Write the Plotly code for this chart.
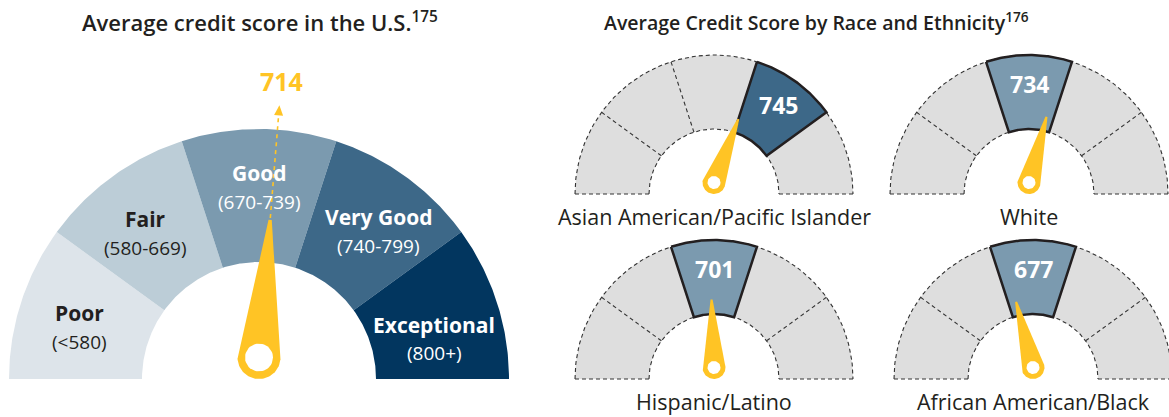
import numpy as np
import plotly.graph_objects as go

# ---------------- data ----------------
band_names = ["Poor", "Fair", "Good", "Very Good", "Exceptional"]
band_ranges = ["(<580)", "(580-669)", "(670-739)", "(740-799)", "(800+)"]
band_edges = [300, 580, 670, 740, 800, 850]

us_average = 714

groups = ["Asian American/Pacific Islander", "White", "Hispanic/Latino", "African American/Black"]
group_scores = [745, 734, 701, 677]

title_left = "Average credit score in the U.S."
title_left_note = "175"
title_right = "Average Credit Score by Race and Ethnicity"
title_right_note = "176"

# ---------------- styling ----------------
W, H = 1169, 417
FONT = "Open Sans"
DARK = "#231F20"
YELLOW = "#FFC425"
GREY = "#DEDEDE"
DASH_COLOR = "#333333"
band_colors = ["#DDE4EA", "#BCCDD7", "#7B9AAF", "#3D6888", "#02365F"]
band_text_colors = [DARK, DARK, "#FFFFFF", "#FFFFFF", "#FFFFFF"]

# main gauge geometry (pixel space, y grows downward)
MAIN_C = (259, 379)
MAIN_R_IN, MAIN_R_OUT = 117, 250
MAIN_LABEL_POLAR = [(164, 187), (128, 185), (90, 192), (51, 190), (13, 180)]

# small gauges geometry
SMALL_C = [(714, 194), (1029, 194), (714, 379), (1033, 379)]
SMALL_R_IN, SMALL_R_OUT = 65, 139

n_bands = len(band_names)
SPAN = 180.0 / n_bands


def band_index(score):
    for i in range(n_bands):
        if band_edges[i] <= score < band_edges[i + 1]:
            return i
    return n_bands - 1


def score_to_angle(score):
    i = band_index(score)
    lo, hi = band_edges[i], band_edges[i + 1]
    return 180.0 - SPAN * (i + (score - lo) / (hi - lo))


def band_angles(i):
    return 180.0 - SPAN * i, 180.0 - SPAN * (i + 1)


def pt(cx, cy, r, a):
    t = np.radians(a)
    return cx + r * np.cos(t), cy - r * np.sin(t)


def arc(cx, cy, r, a0, a1, n=72):
    a = np.linspace(a0, a1, n)
    x, y = pt(cx, cy, r, a)
    return list(x), list(y)


def wedge(cx, cy, r_in, r_out, a0, a1):
    xo, yo = arc(cx, cy, r_out, a0, a1)
    xi, yi = arc(cx, cy, r_in, a1, a0)
    return xo + xi + [xo[0]], yo + yi + [yo[0]]


fig = go.Figure()


def add_poly(x, y, fill, line_color=None, line_width=0):
    fig.add_trace(go.Scatter(
        x=x, y=y, mode="lines", fill="toself", fillcolor=fill,
        line=dict(color=line_color or fill, width=line_width),
        hoverinfo="skip", showlegend=False))


def add_line(x, y, color, width, dash=None):
    fig.add_trace(go.Scatter(
        x=x, y=y, mode="lines",
        line=dict(color=color, width=width, dash=dash),
        hoverinfo="skip", showlegend=False))


def add_text(x, y, text, size, color, bold=False):
    fig.add_annotation(
        x=x, y=y, xref="x", yref="y", showarrow=False,
        text=f"<b>{text}</b>" if bold else text,
        font=dict(family=FONT, size=size, color=color),
        xanchor="center", yanchor="middle")


def add_needle(hx, hy, angle, length, r_hub, r_hole, tip_half):
    t = np.radians(angle)
    ux, uy = np.cos(t), -np.sin(t)
    sx, sy = -np.sin(t), -np.cos(t)
    tx, ty = hx + length * ux, hy + length * uy
    bx, by = arc(hx, hy, r_hub, angle + 90, angle + 270, 48)
    x = [tx + tip_half * sx] + bx + [tx - tip_half * sx, tx + tip_half * sx]
    y = [ty + tip_half * sy] + by + [ty - tip_half * sy, ty + tip_half * sy]
    add_poly(x, y, YELLOW)
    cx_, cy_ = arc(hx, hy, r_hole, 0, 360, 48)
    add_poly(cx_, cy_, "#FFFFFF")
    return ux, uy


# ---------------- main gauge ----------------
cx, cy = MAIN_C
for i in range(n_bands):
    a0, a1 = band_angles(i)
    x, y = wedge(cx, cy, MAIN_R_IN, MAIN_R_OUT, a0, a1)
    add_poly(x, y, band_colors[i])

for i in range(n_bands):
    a, r = MAIN_LABEL_POLAR[i]
    lx, ly = pt(cx, cy, r, a)
    add_text(lx, ly - 14, band_names[i], 21, band_text_colors[i], bold=True)
    add_text(lx, ly + 14.5, band_ranges[i], 19, band_text_colors[i])

hub_r = 21.5
hx, hy = cx, cy - hub_r
ang = score_to_angle(us_average)
ux, uy = add_needle(hx, hy, ang, 138, hub_r, 14, 1.6)

# dashed pointer leading to the value
L0, L1, L_tip = 140, 243, 253
add_line([hx + L0 * ux, hx + L1 * ux], [hy + L0 * uy, hy + L1 * uy], YELLOW, 1.6, "4px,4px")
sx, sy = -uy, ux
bx, by = hx + L1 * ux, hy + L1 * uy
add_poly([hx + L_tip * ux, bx + 4.5 * sx, bx - 4.5 * sx, hx + L_tip * ux],
         [hy + L_tip * uy, by + 4.5 * sy, by - 4.5 * sy, hy + L_tip * uy], YELLOW)
add_text(hx + 277 * ux, hy + 277 * uy, str(us_average), 25, YELLOW, bold=True)

# ---------------- small gauges ----------------
for (gx, gy), name, score in zip(SMALL_C, groups, group_scores):
    hi_band = band_index(score)
    for i in range(n_bands):
        if i == hi_band:
            continue
        a0, a1 = band_angles(i)
        x, y = wedge(gx, gy, SMALL_R_IN, SMALL_R_OUT, a0, a1)
        add_poly(x, y, GREY)
    # dashed outlines
    x, y = arc(gx, gy, SMALL_R_OUT, 180, 0, 120)
    add_line(x, y, DASH_COLOR, 1.1, "4px,3px")
    x, y = arc(gx, gy, SMALL_R_IN, 180, 0, 80)
    add_line(x, y, DASH_COLOR, 1.1, "4px,3px")
    for k in range(1, n_bands):
        a = 180.0 - SPAN * k
        p0 = pt(gx, gy, SMALL_R_IN, a)
        p1 = pt(gx, gy, SMALL_R_OUT, a)
        add_line([p0[0], p1[0]], [p0[1], p1[1]], DASH_COLOR, 1.1, "4px,3px")
    add_line([gx - SMALL_R_OUT, gx - SMALL_R_IN], [gy, gy], DASH_COLOR, 1.1, "4px,3px")
    add_line([gx + SMALL_R_IN, gx + SMALL_R_OUT], [gy, gy], DASH_COLOR, 1.1, "4px,3px")

    # highlighted band
    a0, a1 = band_angles(hi_band)
    x, y = wedge(gx, gy, SMALL_R_IN, SMALL_R_OUT, a0, a1)
    add_poly(x, y, band_colors[hi_band], DARK, 2.5)
    vx, vy = pt(gx, gy, 110, (a0 + a1) / 2)
    add_text(vx, vy, str(score), 23, "#FFFFFF", bold=True)

    # needle
    r_hub = 11.5
    add_needle(gx, gy - r_hub, score_to_angle(score), 68, r_hub, 6.5, 1.0)

    add_text(gx, gy + 22, name, 21.5, DARK)

# ---------------- titles ----------------
fig.add_annotation(x=260, y=21, xref="x", yref="y", showarrow=False,
                   text=f"{title_left}<sup>{title_left_note}</sup>",
                   font=dict(family=FONT, size=22, color=DARK, weight=600))
fig.add_annotation(x=816, y=21, xref="x", yref="y", showarrow=False,
                   text=f"{title_right}<sup>{title_right_note}</sup>",
                   font=dict(family=FONT, size=19.5, color=DARK, weight=600))

fig.update_layout(
    width=W, height=H, autosize=False,
    margin=dict(l=0, r=0, t=0, b=0),
    paper_bgcolor="#FFFFFF", plot_bgcolor="#FFFFFF",
    xaxis=dict(range=[0, W], visible=False, fixedrange=True),
    yaxis=dict(range=[H, 0], visible=False, fixedrange=True),
    showlegend=False,
)

fig.write_html("out.html")
